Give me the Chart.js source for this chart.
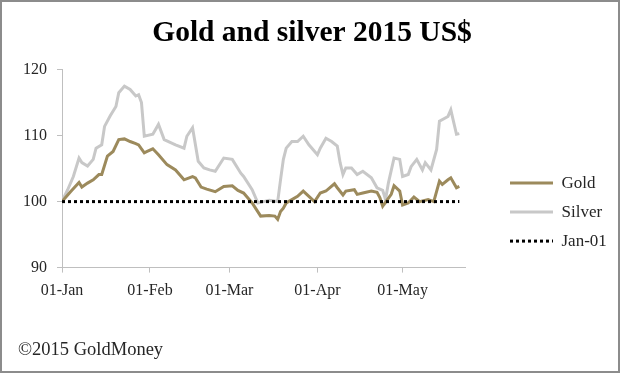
<!DOCTYPE html>
<html>
<head>
<meta charset="utf-8">
<script src="https://cdn.jsdelivr.net/npm/chart.js@4/dist/chart.umd.min.js"></script>
<style>
  html, body { margin: 0; padding: 0; background: #fff; }
  #wrap { width: 620px; height: 373px; box-sizing: border-box; border: 2px solid #8c8c8c; background: #fff; }
  #wrap canvas { display: block; }
</style>
</head>
<body>
<div id="wrap"><canvas id="c" width="616" height="369"></canvas></div>
<script>
// Day index counted from 01-Jan-2015
const tickDays = [0, 31, 59, 90, 120];
const tickLabels = ['01-Jan', '01-Feb', '01-Mar', '01-Apr', '01-May'];

const goldDays = [0, 3, 6, 7, 9, 11, 13, 14, 16, 18, 20, 22, 24, 26, 27, 29, 30, 32, 34, 37, 40, 43, 46, 47, 49, 51, 54, 57, 60, 62, 64, 67, 70, 73, 75, 76, 77, 78, 79, 83, 85, 87, 89, 91, 93, 96, 97, 99, 100, 103, 104, 106, 109, 111, 112, 113, 116, 117, 119, 120, 122, 124, 126, 129, 131, 133, 134, 136, 137, 139, 140];
const goldValues = [100, 101.5, 102.9, 102.2, 102.8, 103.3, 104.1, 104.1, 106.9, 107.6, 109.4, 109.5, 109.1, 108.8, 108.6, 107.4, 107.6, 108.0, 107.1, 105.6, 104.8, 103.3, 103.8, 103.6, 102.2, 101.9, 101.5, 102.3, 102.4, 101.7, 101.3, 99.8, 97.8, 97.9, 97.8, 97.3, 98.5, 99.0, 99.8, 100.8, 101.6, 100.8, 100.0, 101.3, 101.6, 102.7, 102.1, 101.0, 101.6, 101.8, 101.1, 101.3, 101.6, 101.4, 100.6, 99.3, 101.1, 102.4, 101.6, 99.5, 99.8, 100.7, 100.0, 100.3, 100.0, 103.1, 102.6, 103.3, 103.6, 102.1, 102.3];

const silverDays = [0, 2, 4, 6, 7, 9, 11, 12, 14, 15, 17, 19, 20, 22, 24, 26, 27, 28, 29, 32, 34, 36, 40, 43, 44, 46, 48, 50, 52, 54, 57, 60, 63, 64, 67, 69, 71, 73, 76, 77, 78, 79, 81, 83, 85, 87, 90, 91, 93, 95, 97, 98, 99, 100, 102, 104, 106, 109, 111, 113, 114, 115, 117, 119, 120, 122, 123, 125, 127, 128, 130, 132, 133, 136, 137, 139, 140];
const silverValues = [100, 101.8, 103.8, 106.6, 105.9, 105.4, 106.4, 108.1, 108.6, 111.4, 113.0, 114.4, 116.5, 117.5, 117.0, 116.0, 116.2, 115.0, 109.9, 110.2, 111.7, 109.4, 108.6, 108.1, 109.9, 111.2, 106.1, 105.1, 104.8, 104.6, 106.6, 106.4, 104.3, 103.8, 101.8, 99.8, 100.0, 100.2, 100.0, 103.3, 106.4, 108.1, 109.1, 109.1, 109.9, 108.6, 107.1, 108.1, 109.6, 109.1, 108.4, 105.9, 104.1, 105.1, 105.1, 104.1, 104.6, 103.6, 102.1, 101.7, 100.3, 102.8, 106.6, 106.4, 103.8, 104.1, 105.3, 106.4, 104.8, 105.9, 104.8, 107.9, 112.2, 112.9, 113.9, 110.2, 110.3];

const baseDays = [0, 140];
const baseValues = [100, 100];

const seriesNames = ['Gold', 'Silver', 'Jan-01'];

function pts(xs, ys) { return xs.map((x, i) => ({ x: x, y: ys[i] })); }

const SERIF = "'Liberation Serif', 'Times New Roman', serif";
const AXIS = '#bfbfbf';
const TEXT = '#262626';

// Legend placement: box width reserved at the right, gap from plot, drop from plot top
const LEGEND_BOX_WIDTH = 141;
const LEGEND_GAP = 33;
const LEGEND_DROP = 93;

const legendPlacer = {
  id: 'legendPlacer',
  afterInit(chart) {
    const lg = chart.legend;
    const baseFit = Object.getPrototypeOf(lg).fit;
    lg.fit = function () { baseFit.call(this); this.width = LEGEND_BOX_WIDTH; };
  },
  afterLayout(chart) {
    const lg = chart.legend, ca = chart.chartArea;
    lg.left = ca.right + LEGEND_GAP;
    lg.right = chart.width;
    lg.top = ca.top + LEGEND_DROP;
    lg.bottom = ca.bottom;
  }
};

new Chart(document.getElementById('c'), {
  type: 'line',
  data: {
    datasets: [
      { label: seriesNames[0], data: pts(goldDays, goldValues), borderColor: '#9c8a5c', backgroundColor: '#9c8a5c', borderWidth: 3, pointRadius: 0, tension: 0, order: 1 },
      { label: seriesNames[1], data: pts(silverDays, silverValues), borderColor: '#c8c8c8', backgroundColor: '#c8c8c8', borderWidth: 3, pointRadius: 0, tension: 0, order: 2 },
      { label: seriesNames[2], data: pts(baseDays, baseValues), borderColor: '#000000', backgroundColor: '#000000', borderWidth: 3, borderDash: [3, 3], pointRadius: 0, tension: 0, order: 0 }
    ]
  },
  plugins: [legendPlacer],
  options: {
    responsive: false,
    animation: false,
    layout: { padding: { left: 16, right: 12, top: 0, bottom: 0 } },
    scales: {
      x: {
        type: 'linear', min: 0, max: 142,
        afterBuildTicks: (s) => { s.ticks = tickDays.map(v => ({ value: v })); },
        ticks: {
          autoSkip: false, maxRotation: 0, padding: 9,
          font: { family: SERIF, size: 16 }, color: TEXT,
          callback: (v) => { const i = tickDays.indexOf(v); return i >= 0 ? tickLabels[i] : ''; }
        },
        grid: { display: true, drawOnChartArea: false, drawTicks: true, tickLength: 5, color: AXIS },
        border: { display: true, color: AXIS, width: 1 }
      },
      y: {
        min: 90, max: 120,
        afterFit: (s) => { s.width = 44; },
        ticks: { stepSize: 10, padding: 10, font: { family: SERIF, size: 16 }, color: TEXT },
        grid: { display: true, drawOnChartArea: false, drawTicks: true, tickLength: 5, color: AXIS },
        border: { display: true, color: AXIS, width: 1 }
      }
    },
    plugins: {
      title: {
        display: true, text: 'Gold and silver 2015 US$',
        font: { family: SERIF, size: 29.5, weight: 'bold' }, color: '#000',
        padding: { top: 14, bottom: 18.2 }
      },
      subtitle: {
        display: true, position: 'bottom', align: 'start', text: '©2015 GoldMoney',
        font: { family: SERIF, size: 18.5, weight: 'normal' }, color: TEXT,
        padding: { top: 29, bottom: 10 }
      },
      legend: {
        display: true, position: 'right', align: 'start',
        labels: {
          usePointStyle: true, pointStyle: 'line', pointStyleWidth: 43, padding: 12,
          font: { family: SERIF, size: 17 }, color: TEXT,
          sort: (a, b) => a.datasetIndex - b.datasetIndex,
          generateLabels: (chart) => {
            const items = Chart.defaults.plugins.legend.labels.generateLabels(chart);
            items.forEach((it) => {
              const ds = chart.data.datasets[it.datasetIndex];
              it.lineDash = ds.borderDash || [];
              it.lineWidth = ds.borderWidth;
              it.strokeStyle = ds.borderColor;
              it.lineCap = 'butt';
            });
            return items;
          }
        }
      },
      tooltip: { enabled: false }
    }
  }
});
</script>
</body>
</html>
